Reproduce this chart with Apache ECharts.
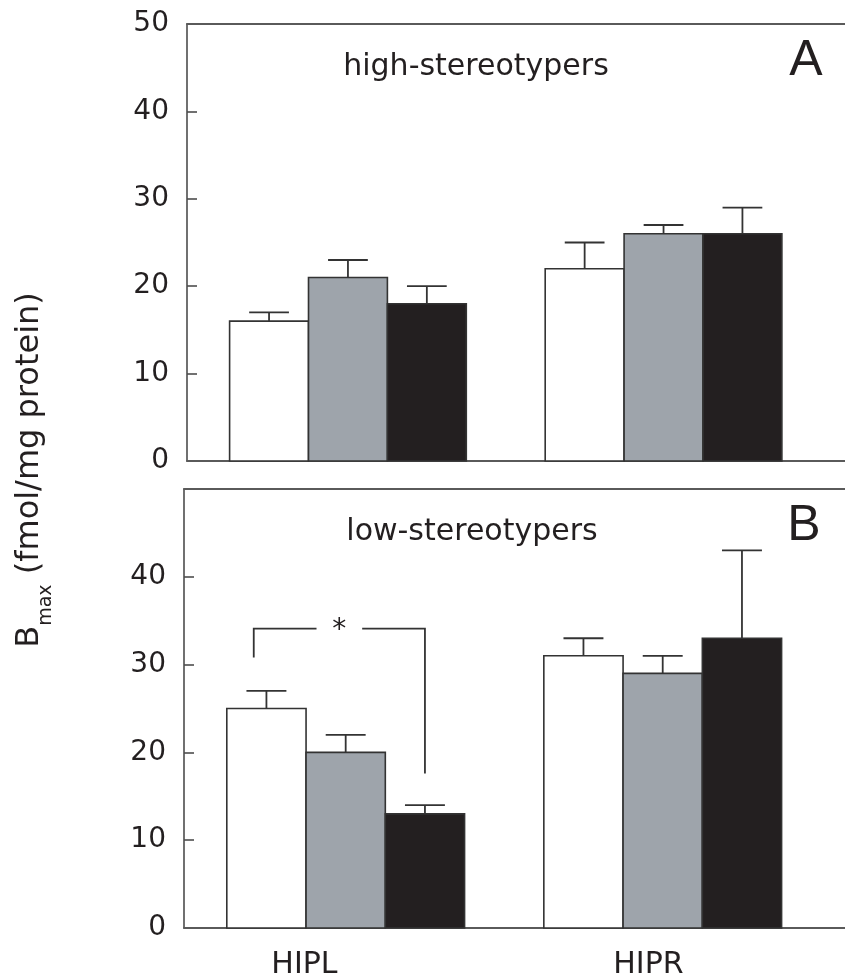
<!DOCTYPE html>
<html>
<head>
<meta charset="utf-8">
<script src="https://cdn.jsdelivr.net/npm/echarts@6/dist/echarts.min.js"></script>
<style>
  html, body { margin: 0; padding: 0; background: #ffffff; }
  #chart { width: 845px; height: 976px; }
</style>
</head>
<body>
<div id="chart"></div>
<script>
// Brain regions (groups along x)
const regions = ['HIPL', 'HIPR'];

// Panel A: high-stereotypers, Bmax means and SEM per treatment
const highWhite = [16, 22];
const highGray = [21, 26];
const highBlack = [18, 26];
const highWhiteSem = [1, 3];
const highGraySem = [2, 1];
const highBlackSem = [2, 3];

// Panel B: low-stereotypers
const lowWhite = [25, 31];
const lowGray = [20, 29];
const lowBlack = [13, 33];
const lowWhiteSem = [2, 2];
const lowGraySem = [2, 2];
const lowBlackSem = [1, 10];

// Tick labels on the y axes
const highTicks = [0, 10, 20, 30, 40, 50];
const lowTicks = [0, 10, 20, 30, 40];

// Significance bracket (HIPL white vs HIPL black): bar-end levels and bracket level
const sigBars = [0, 2];
const sigEnds = [30.8, 17.6];
const sigLevel = 34.1;
const sigMark = '*';

// ---- layout / style ----
const INK = '#231f20';
const FONT = 'DejaVu Sans';
const barOffsets = [-0.25, 0, 0.25];
const barWidthUnits = 0.25;
const capHalf = 0.063;
const labelShift = [-0.13, -0.045];
const xMin = -0.51, xMax = 1.575;
const fills = ['#ffffff', '#9ea4ab', '#231f20'];

const chart = echarts.init(document.getElementById('chart'), null, { renderer: 'canvas' });

function barSeries(grid, values, k) {
  return {
    type: 'custom',
    xAxisIndex: grid * 2,
    yAxisIndex: grid,
    data: values.map((v, i) => [i, v]),
    encode: { x: 0, y: 1 },
    renderItem(params, api) {
      const x = api.value(0) + barOffsets[k];
      const top = api.coord([x, api.value(1)]);
      const base = api.coord([x, 0]);
      const w = api.size([barWidthUnits, 0])[0];
      return {
        type: 'rect',
        shape: { x: top[0] - w / 2, y: top[1], width: w, height: base[1] - top[1] },
        style: { fill: fills[k], stroke: '#333333', lineWidth: 1.6 }
      };
    },
    z: 2
  };
}

function errSeries(grid, values, sems, k) {
  return {
    type: 'custom',
    xAxisIndex: grid * 2,
    yAxisIndex: grid,
    data: values.map((v, i) => [i, v, v + sems[i]]),
    encode: { x: 0, y: [1, 2] },
    renderItem(params, api) {
      const x = api.value(0) + barOffsets[k];
      const p0 = api.coord([x, api.value(1)]);
      const p1 = api.coord([x, api.value(2)]);
      const cl = api.coord([x - capHalf, api.value(2)]);
      const cr = api.coord([x + capHalf, api.value(2)]);
      const st = { stroke: '#333333', lineWidth: 1.8 };
      return {
        type: 'group',
        children: [
          { type: 'line', shape: { x1: p0[0], y1: p0[1], x2: p1[0], y2: p1[1] }, style: st },
          { type: 'line', shape: { x1: cl[0], y1: cl[1], x2: cr[0], y2: cr[1] }, style: st }
        ]
      };
    },
    z: 3
  };
}

const bracketSeries = {
  type: 'custom',
  xAxisIndex: 2,
  yAxisIndex: 1,
  data: [[barOffsets[sigBars[0]] - 0.04, barOffsets[sigBars[1]], sigEnds[0], sigEnds[1], sigLevel]],
  encode: { x: [0, 1], y: [2, 3, 4] },
  renderItem(params, api) {
    const xl = api.value(0), xr = api.value(1);
    const lvl = api.value(4);
    const mid = (xl + xr) / 2;
    const gap = 0.072;
    const a = api.coord([xl, api.value(2)]);
    const b = api.coord([xl, lvl]);
    const c = api.coord([mid - gap, lvl]);
    const d = api.coord([mid + gap, lvl]);
    const e = api.coord([xr, lvl]);
    const f = api.coord([xr, api.value(3)]);
    const m = api.coord([mid, lvl]);
    const st = { stroke: '#333333', lineWidth: 1.8, fill: null };
    return {
      type: 'group',
      children: [
        { type: 'polyline', shape: { points: [a, b, c] }, style: st },
        { type: 'polyline', shape: { points: [d, e, f] }, style: st },
        { type: 'text', x: m[0], y: m[1] + 2,
          style: { text: sigMark, font: '28px ' + FONT, fill: INK, align: 'center', verticalAlign: 'middle' } }
      ]
    };
  },
  z: 4
};

function yAxisFor(grid, ticks) {
  return {
    type: 'value',
    gridIndex: grid,
    min: 0, max: 50, interval: 10,
    axisLine: { show: true, onZero: false, lineStyle: { color: '#4d4d4d', width: 1.6 } },
    axisTick: { show: true, inside: true, length: 10, customValues: ticks.filter(t => t > 0 && t < 50), lineStyle: { color: '#4d4d4d', width: 1.6 } },
    axisLabel: { customValues: ticks, fontFamily: FONT, fontSize: 28, color: INK, margin: 18 },
    splitLine: { show: false }
  };
}

function xAxisFor(grid, position, withLabels) {
  const ax = {
    type: 'value',
    gridIndex: grid,
    position: position,
    min: xMin, max: xMax,
    axisLine: { show: true, onZero: false, lineStyle: { color: '#5a5a5a', width: 2 } },
    axisTick: { show: false },
    axisLabel: { show: false },
    splitLine: { show: false }
  };
  if (withLabels) {
    const pos = regions.map((r, i) => i + labelShift[i]);
    ax.axisLabel = {
      show: true,
      customValues: pos,
      formatter: (v) => {
        const i = pos.findIndex(p => Math.abs(p - v) < 1e-6);
        return i >= 0 ? regions[i] : '';
      },
      fontFamily: FONT, fontSize: 30, color: INK, margin: 22
    };
  }
  return ax;
}

const option = {
  animation: false,
  backgroundColor: '#ffffff',
  grid: [
    { left: 187, top: 24, width: 658, height: 437, containLabel: false, outerBoundsMode: 'none' },
    { left: 184, top: 489, width: 661, height: 439, containLabel: false, outerBoundsMode: 'none' }
  ],
  xAxis: [
    xAxisFor(0, 'bottom', false),
    xAxisFor(0, 'top', false),
    xAxisFor(1, 'bottom', true),
    xAxisFor(1, 'top', false)
  ],
  yAxis: [yAxisFor(0, highTicks), yAxisFor(1, lowTicks)],
  series: [
    barSeries(0, highWhite, 0), barSeries(0, highGray, 1), barSeries(0, highBlack, 2),
    errSeries(0, highWhite, highWhiteSem, 0), errSeries(0, highGray, highGraySem, 1), errSeries(0, highBlack, highBlackSem, 2),
    barSeries(1, lowWhite, 0), barSeries(1, lowGray, 1), barSeries(1, lowBlack, 2),
    errSeries(1, lowWhite, lowWhiteSem, 0), errSeries(1, lowGray, lowGraySem, 1), errSeries(1, lowBlack, lowBlackSem, 2),
    bracketSeries
  ],
  graphic: [
    { type: 'text', x: 476, y: 67, style: { text: 'high-stereotypers', font: '30px ' + FONT, fill: INK, align: 'center', verticalAlign: 'middle' } },
    { type: 'text', x: 472, y: 532, style: { text: 'low-stereotypers', font: '30px ' + FONT, fill: INK, align: 'center', verticalAlign: 'middle' } },
    { type: 'text', x: 806, y: 61, style: { text: 'A', font: '50px "Liberation Sans"', fill: INK, align: 'center', verticalAlign: 'middle' } },
    { type: 'text', x: 804, y: 526, style: { text: 'B', font: '50px "Liberation Sans"', fill: INK, align: 'center', verticalAlign: 'middle' } },
    {
      type: 'text', x: 30, y: 470, rotation: Math.PI / 2,
      style: {
        text: '{b|B}{s|max}{b| (fmol/mg protein)}',
        align: 'center', verticalAlign: 'middle', fill: INK,
        rich: {
          b: { fontFamily: FONT, fontSize: 32, lineHeight: 52, verticalAlign: 'middle', fill: INK },
          s: { fontFamily: FONT, fontSize: 19, lineHeight: 19, verticalAlign: 'bottom', fill: INK }
        }
      }
    }
  ]
};

chart.setOption(option);
</script>
</body>
</html>
